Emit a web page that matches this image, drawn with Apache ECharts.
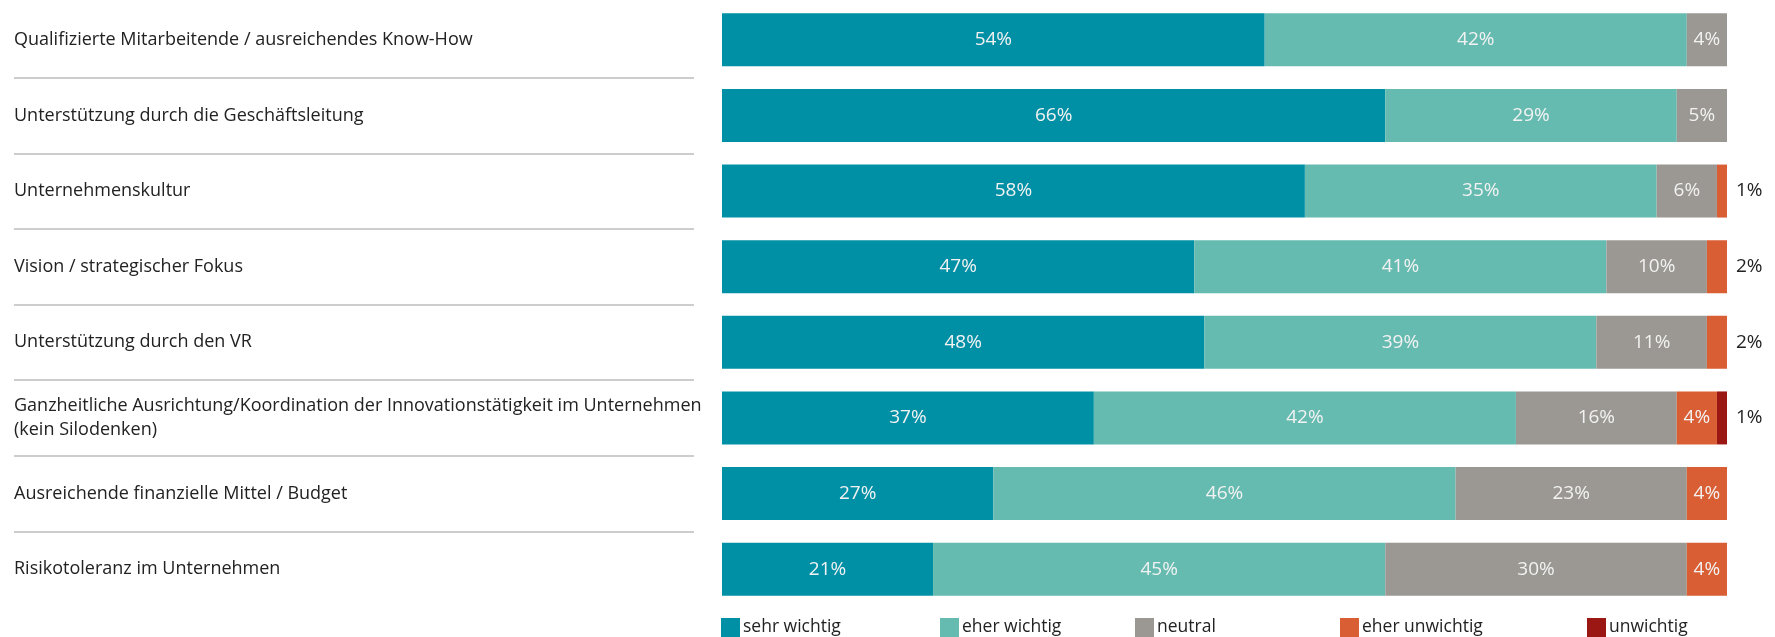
<!DOCTYPE html>
<html><head><meta charset="utf-8">
<script src="https://cdn.jsdelivr.net/npm/echarts@6/dist/echarts.min.js"></script>
<style>html,body{margin:0;padding:0;background:#fff}#c{width:1775px;height:637px}</style>
</head><body><div id="c"></div>
<script>
const categories = [
  "Qualifizierte Mitarbeitende / ausreichendes Know-How",
  "Unterstützung durch die Geschäftsleitung",
  "Unternehmenskultur",
  "Vision / strategischer Fokus",
  "Unterstützung durch den VR",
  "Ganzheitliche Ausrichtung/Koordination der Innovationstätigkeit im Unternehmen\n(kein Silodenken)",
  "Ausreichende finanzielle Mittel / Budget",
  "Risikotoleranz im Unternehmen"
];
const seriesNames = ["sehr wichtig", "eher wichtig", "neutral", "eher unwichtig", "unwichtig"];
const sehrWichtig   = [54, 66, 58, 47, 48, 37, 27, 21];
const eherWichtig   = [42, 29, 35, 41, 39, 42, 46, 45];
const neutral       = [4, 5, 6, 10, 11, 16, 23, 30];
const eherUnwichtig = [0, 0, 1, 2, 2, 4, 4, 4];
const unwichtig     = [0, 0, 0, 0, 0, 1, 0, 0];
const colors = ["#0090A6", "#66BBB0", "#9B9893", "#D95E34", "#9A1714"];
const legendLeft = [721, 940, 1135, 1340, 1587];

const values = [sehrWichtig, eherWichtig, neutral, eherUnwichtig, unwichtig];
const FONT = "Open Sans";
const chart = echarts.init(document.getElementById('c'), null, {renderer: 'canvas'});

const series = values.map((arr, i) => ({
  name: seriesNames[i],
  type: 'bar',
  stack: 'total',
  barWidth: 53,
  xAxisIndex: 0, yAxisIndex: 0,
  itemStyle: {color: colors[i]},
  data: arr.map(v => {
    if (v === 0) return {value: 0, label: {show: false}};
    if (v < 3) return {value: v, label: {show: true, position: 'right', distance: 9, color: '#222'}};
    return {value: v};
  }),
  label: {show: true, position: 'inside', color: '#f2f2f2', fontFamily: FONT, fontSize: 19,
    formatter: p => p.value + '%'},
  emphasis: {disabled: true}
}));

series.push({
  type: 'line', xAxisIndex: 1, yAxisIndex: 1, data: [], silent: true
});

chart.setOption({
  animation: false,
  legend: seriesNames.map((n, i) => ({
    data: [n], left: legendLeft[i], top: 618, itemWidth: 19, itemHeight: 19, itemGap: 0,
    icon: 'rect', selectedMode: false, padding: 0,
    textStyle: {fontFamily: FONT, fontSize: 17.5, color: '#222', padding: [0, 0, 0, -2]}
  })),
  grid: [
    {left: 722, right: 48, top: 2, height: 605},
    {left: 14, width: 680, top: 2, height: 605}
  ],
  xAxis: [
    {type: 'value', min: 0, max: 100, show: false, gridIndex: 0},
    {type: 'value', min: 0, max: 1, show: false, gridIndex: 1}
  ],
  yAxis: [
    {type: 'category', data: categories, inverse: true, gridIndex: 0,
     axisLine: {show: false}, axisTick: {show: false},
     axisLabel: {align: 'left', margin: 708, fontFamily: FONT, fontSize: 18, color: '#222', lineHeight: 24}},
    {type: 'value', min: 0, max: 8, interval: 1, gridIndex: 1,
     axisLine: {show: false}, axisTick: {show: false}, axisLabel: {show: false},
     splitLine: {show: true, showMinLine: false, showMaxLine: false, lineStyle: {color: '#bdbdbd', width: 1.5}}}
  ],
  series: series
});
</script></body></html>
